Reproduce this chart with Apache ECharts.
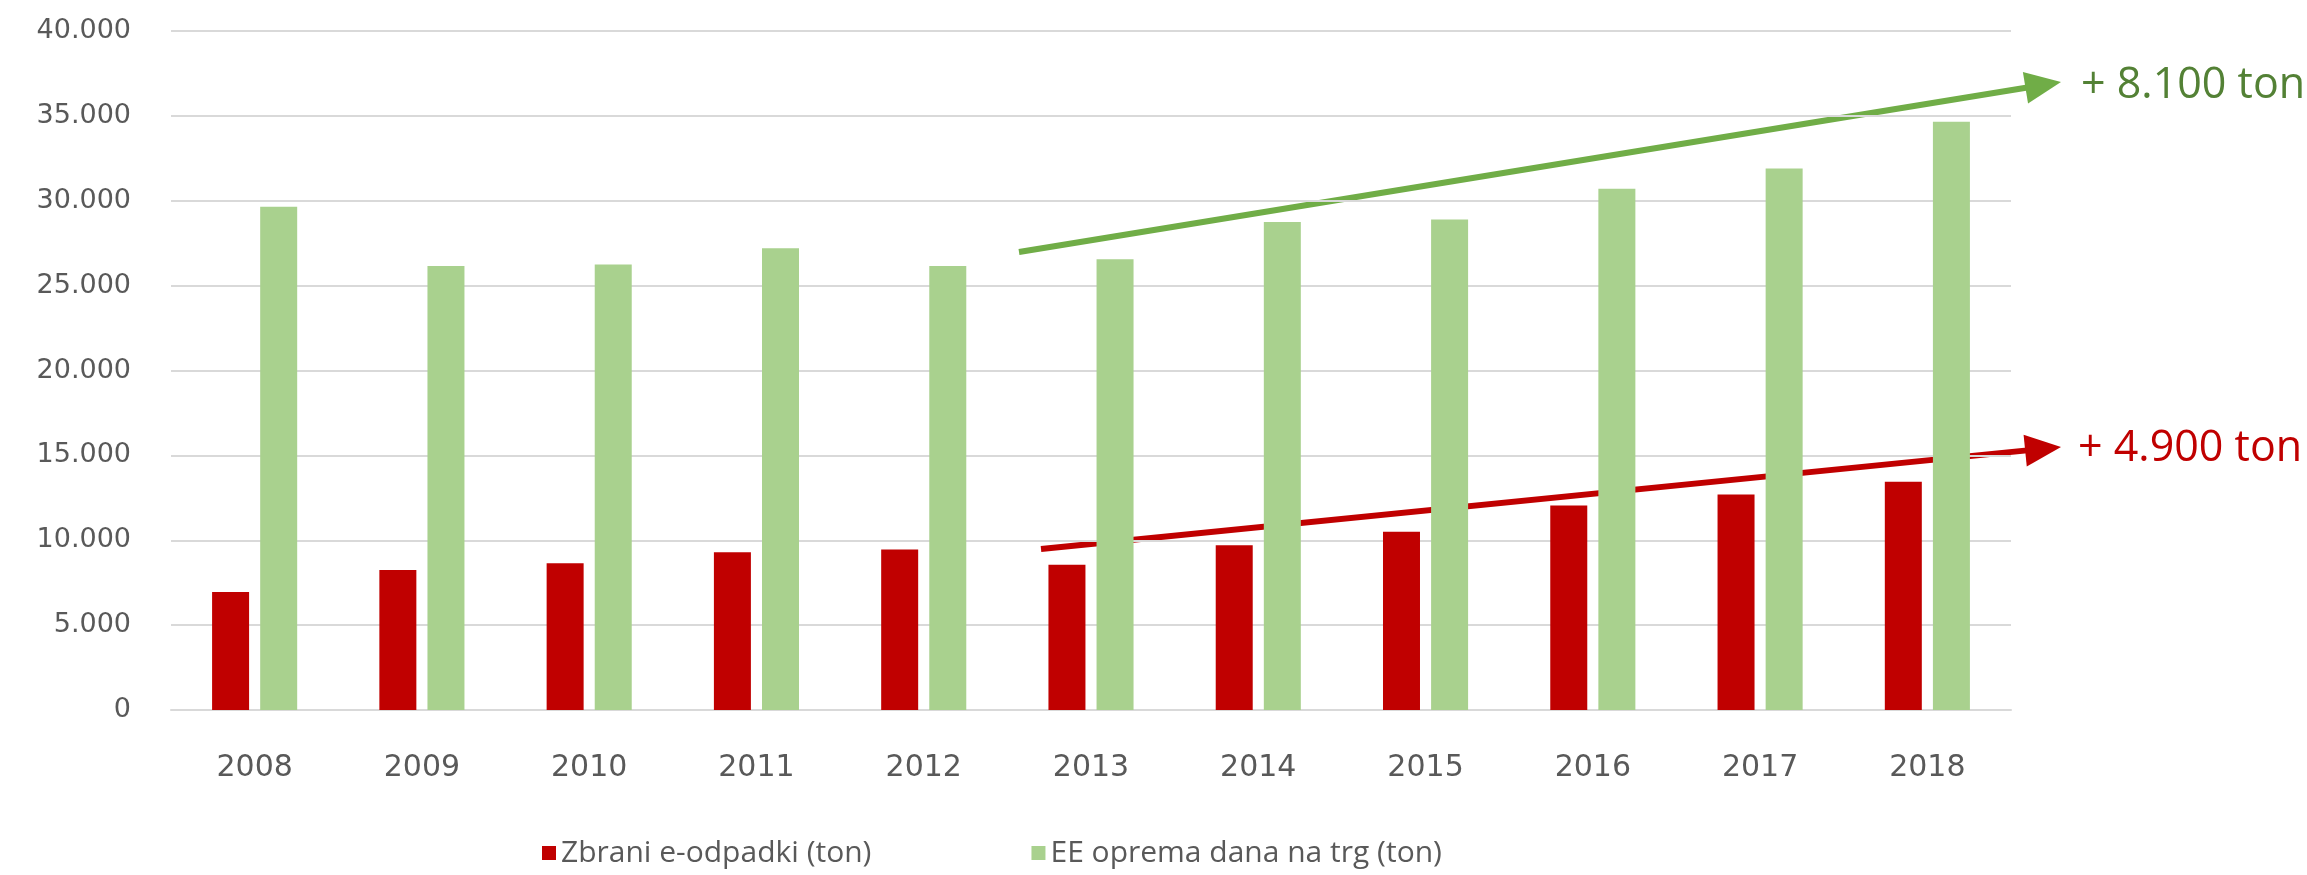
<!DOCTYPE html>
<html>
<head>
<meta charset="utf-8">
<script src="https://cdn.jsdelivr.net/npm/echarts@6/dist/echarts.min.js"></script>
<style>
  html, body { margin: 0; padding: 0; background: #fff; }
  #chart { width: 2307px; height: 875px; }
</style>
</head>
<body>
<div id="chart"></div>
<script>
var years = ['2008', '2009', '2010', '2011', '2012', '2013', '2014', '2015', '2016', '2017', '2018'];
var zbrani = [6950, 8250, 8650, 9300, 9450, 8550, 9700, 10500, 12050, 12700, 13450];
var eeOprema = [29650, 26150, 26250, 27200, 26150, 26550, 28750, 28900, 30700, 31900, 34650];
var seriesNames = ['Zbrani e-odpadki (ton)', 'EE oprema dana na trg (ton)'];
var notes = ['+ 8.100 ton', '+ 4.900 ton'];

var myChart = echarts.init(document.getElementById('chart'));

var formatThousands = function (v) {
    return String(v).replace(/\B(?=(\d{3})+(?!\d))/g, '.');
};

// line with a filled arrow head at the end
var arrow = function (x1, y1, x2, y2, color) {
    var dx = x2 - x1, dy = y2 - y1;
    var len = Math.sqrt(dx * dx + dy * dy);
    var ux = dx / len, uy = dy / len;
    var headLen = 36, headHalf = 16;
    var bx = x2 - ux * headLen, by = y2 - uy * headLen;
    return [
        {
            type: 'line',
            shape: { x1: x1, y1: y1, x2: bx + ux * 2, y2: by + uy * 2 },
            style: { stroke: color, lineWidth: 6 }
        },
        {
            type: 'polygon',
            shape: {
                points: [[x2, y2], [bx - uy * headHalf, by + ux * headHalf], [bx + uy * headHalf, by - ux * headHalf]]
            },
            style: { fill: color }
        }
    ];
};

var graphics = []
    .concat(arrow(1019, 252, 2061, 82, '#70AD47'))
    .concat(arrow(1041, 549, 2061, 447, '#C00000'));
graphics.push({
    type: 'text', left: 2081, top: 64,
    style: { text: notes[0], fill: '#538135', font: '43px "Open Sans"' }
});
graphics.push({
    type: 'text', left: 2078, top: 427,
    style: { text: notes[1], fill: '#C00000', font: '43px "Open Sans"' }
});

var option = {
    animation: false,
    backgroundColor: '#ffffff',
    grid: {
        left: 171,
        right: 296,
        top: 31,
        bottom: 165
    },
    legend: {
        data: seriesNames,
        bottom: 2,
        left: 537,
        itemWidth: 14,
        itemHeight: 14,
        itemGap: 160,
        icon: 'rect',
        textStyle: { fontFamily: 'Open Sans', fontSize: 30, color: '#595959' }
    },
    xAxis: {
        type: 'category',
        data: years,
        axisTick: { show: false },
        axisLine: { lineStyle: { color: '#D9D9D9', width: 2 } },
        axisLabel: { fontFamily: 'DejaVu Sans', fontSize: 30, color: '#595959', margin: 43 }
    },
    yAxis: {
        type: 'value',
        min: 0,
        max: 40000,
        interval: 5000,
        axisLine: { show: false },
        axisTick: { show: false },
        splitLine: { lineStyle: { color: '#D9D9D9', width: 2 } },
        axisLabel: {
            fontFamily: 'DejaVu Sans', fontSize: 27, color: '#595959', margin: 40,
            formatter: formatThousands
        }
    },
    series: [
        {
            name: seriesNames[0],
            type: 'bar',
            data: zbrani,
            barWidth: 37,
            barGap: '30%',
            itemStyle: { color: '#C00000' }
        },
        {
            name: seriesNames[1],
            type: 'bar',
            data: eeOprema,
            barWidth: 37,
            itemStyle: { color: '#A9D18E' }
        }
    ],
    graphic: graphics
};
option && myChart.setOption(option);
window.onresize = function () {
    myChart.resize();
};
</script>
</body>
</html>
